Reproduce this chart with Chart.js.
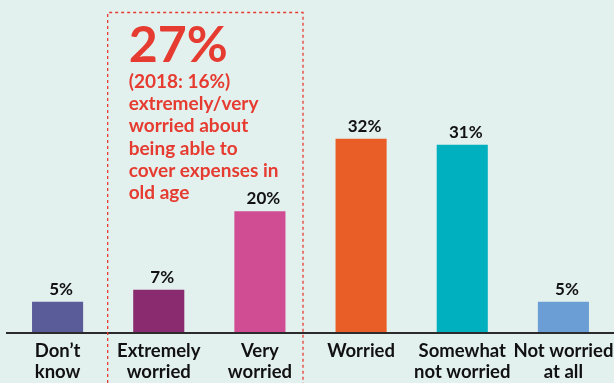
<!DOCTYPE html>
<html>
<head>
<meta charset="utf-8">
<script src="https://cdn.jsdelivr.net/npm/chart.js@4.4.1/dist/chart.umd.min.js"></script>
<style>
  html, body { margin: 0; padding: 0; background: #e3f1ee; }
  #chart { display: block; }
</style>
</head>
<body>
<canvas id="chart" width="614" height="383"></canvas>
<script>
// === Données ===
const categories = [["Don\u2019t", "know"], ["Extremely", "worried"], ["Very", "worried"], ["Worried"], ["Somewhat", "not worried"], ["Not worried", "at all"]];
const values = [5, 7, 20, 32, 31, 5];
const barColors = ["#5a5c9a", "#8a2b6f", "#d04c93", "#e95e26", "#00b0bf", "#6a9ed5"];
const highlightBig = "27%";
const highlightLines = ["(2018: 16%)", "extremely/very", "worried about", "being able to", "cover expenses in", "old age"];

const RED = "#e63b30";
const FONT = "Lato, 'Open Sans', sans-serif";

// fond + ligne de base + encadré + textes
const decorPlugin = {
  id: "decor",
  beforeDraw(chart) {
    const ctx = chart.ctx;
    ctx.save();
    ctx.fillStyle = "#e3f1ee";
    ctx.fillRect(0, 0, chart.width, chart.height);
    ctx.restore();
  },
  afterDatasetsDraw(chart) {
    const ctx = chart.ctx;
    const area = chart.chartArea;
    const meta = chart.getDatasetMeta(0);
    const x = chart.scales.x;

    ctx.save();
    // ligne de base
    ctx.strokeStyle = "#2b2b2b";
    ctx.lineWidth = 2;
    ctx.beginPath();
    ctx.moveTo(6, area.bottom + 1);
    ctx.lineTo(chart.width, area.bottom + 1);
    ctx.stroke();

    // encadré pointillé autour de extremely / very
    const left = (x.getPixelForValue(0) + x.getPixelForValue(1)) / 2 - 0.5;
    const right = (x.getPixelForValue(2) + x.getPixelForValue(3)) / 2 - 7.5;
    const top = 12.5;
    ctx.strokeStyle = RED;
    ctx.lineWidth = 1.3;
    ctx.setLineDash([3, 3]);
    ctx.beginPath();
    ctx.moveTo(left, chart.height);
    ctx.lineTo(left, top);
    ctx.lineTo(right, top);
    ctx.lineTo(right, chart.height);
    ctx.stroke();
    ctx.setLineDash([]);

    // texte annotation
    ctx.fillStyle = RED;
    ctx.textAlign = "left";
    ctx.textBaseline = "alphabetic";
    ctx.font = "bold 50px " + FONT;
    ctx.fillText(highlightBig, left + 21, 62);
    ctx.font = "bold 19px " + FONT;
    highlightLines.forEach((l, i) => ctx.fillText(l, left + 21, 88 + i * 22.2));

    // valeurs au-dessus des barres
    ctx.fillStyle = "#111";
    ctx.textAlign = "center";
    ctx.font = "bold 17px " + FONT;
    meta.data.forEach((bar, i) => {
      ctx.fillText(values[i] + "%", bar.x + 3.5, bar.y - 7);
    });
    ctx.restore();
  }
};

new Chart(document.getElementById("chart"), {
  type: "bar",
  data: {
    labels: categories,
    datasets: [{
      data: values,
      backgroundColor: barColors,
      borderWidth: 0,
      barPercentage: 0.505,
      categoryPercentage: 1
    }]
  },
  options: {
    responsive: false,
    animation: false,
    layout: { padding: { left: 7, right: 0, top: 0, bottom: 0 } },
    plugins: { legend: { display: false }, tooltip: { enabled: false } },
    scales: {
      x: {
        grid: { display: false, drawTicks: false },
        border: { display: false },
        ticks: {
          color: "#111",
          padding: 8,
          maxRotation: 0,
          autoSkip: false,
          font: { family: FONT, size: 18.5, weight: "bold", lineHeight: 1.15 }
        },
        afterFit(axis) {
          axis.height = 51;
          // pas de marge latérale ajoutée par les libellés
          axis.paddingLeft = 0;
          axis.paddingRight = 0;
        }
      },
      y: {
        display: false,
        min: 0,
        max: 55
      }
    }
  },
  plugins: [decorPlugin]
});
</script>
</body>
</html>
